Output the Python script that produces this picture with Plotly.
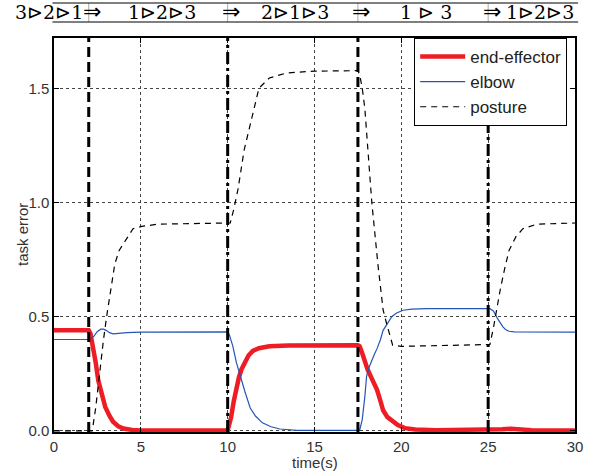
import plotly.graph_objects as go

# ---------------- data ----------------
ee_t = [0, 2.0, 2.1, 2.25, 2.4, 2.55, 2.75, 2.95, 3.2, 3.4, 3.7, 4.0, 4.5, 5.0,
        10.0, 10.1, 10.2, 10.35, 10.5, 10.65, 10.8, 11.0, 11.2, 11.45, 11.8, 12.4, 13.5,
        17.5, 17.6, 17.75, 17.9, 18.05, 18.2, 18.4, 18.6, 18.8, 18.95, 19.2, 19.5, 19.8,
        20.2, 20.8, 22, 25.3, 25.8, 26.3, 27, 27.5, 30]
ee_v = [0.44, 0.44, 0.425, 0.37, 0.30, 0.22, 0.155, 0.105, 0.065, 0.04, 0.02, 0.01, 0.004, 0.002,
        0.002, 0.03, 0.06, 0.13, 0.19, 0.235, 0.27, 0.305, 0.33, 0.35, 0.362, 0.37, 0.374,
        0.375, 0.37, 0.34, 0.30, 0.27, 0.245, 0.215, 0.18, 0.13, 0.09, 0.06, 0.04, 0.025,
        0.012, 0.006, 0.003, 0.003, 0.007, 0.009, 0.007, 0.003, 0.002]

elbow_t = [0, 2.1, 2.3, 2.5, 2.7, 2.85, 3.0, 3.2, 3.4, 3.7, 4.2, 5,
           10, 10.1, 10.3, 10.5, 10.8, 11.0, 11.3, 11.6, 12.0, 12.5, 13, 14,
           17.6, 17.75, 17.9, 18.0, 18.15, 18.3, 18.45, 18.6, 18.8, 18.95, 19.2, 19.45, 19.7,
           20.1, 20.6, 21.5, 25.1, 25.3, 25.55, 25.7, 25.85, 26.0, 26.2, 26.5, 30]
elbow_v = [0.40, 0.40, 0.415, 0.435, 0.445, 0.445, 0.44, 0.43, 0.425, 0.428, 0.43, 0.432,
           0.433, 0.42, 0.37, 0.30, 0.22, 0.17, 0.10, 0.065, 0.035, 0.018, 0.008, 0.002,
           0.002, 0.05, 0.15, 0.24, 0.28, 0.31, 0.335, 0.36, 0.40, 0.44, 0.47, 0.50, 0.515,
           0.528, 0.533, 0.535, 0.535, 0.525, 0.49, 0.47, 0.455, 0.444, 0.436, 0.433, 0.432]

posture_t = [0, 2.2, 2.4, 2.65, 2.85, 3.05, 3.3, 3.5, 3.75, 4.0, 4.3, 4.55, 5.05, 6,
             10.0, 10.15, 10.35, 10.6, 10.95, 11.4, 11.8, 12.4, 13.4, 15, 17.5,
             17.6, 17.75, 17.9, 18.1, 18.3, 18.65, 18.95, 19.15, 19.35, 19.5, 20, 25.0,
             25.1, 25.3, 25.5, 25.7, 25.95, 26.2, 26.6, 27.0, 27.8, 30]
posture_v = [0.0, 0.0, 0.1, 0.28, 0.40, 0.51, 0.64, 0.73, 0.79, 0.82, 0.86, 0.885, 0.895, 0.905,
             0.91, 0.91, 0.97, 1.06, 1.23, 1.38, 1.50, 1.545, 1.567, 1.575, 1.577,
             1.56, 1.50, 1.41, 1.2, 1.0, 0.73, 0.53, 0.47, 0.41, 0.375, 0.37, 0.378,
             0.378, 0.45, 0.54, 0.62, 0.71, 0.79, 0.85, 0.885, 0.905, 0.91]

switch_times = [2, 10, 17.5, 25]
switch_dash = ["dash", "dashdot", "dash", "dashdot"]

header_labels = ["3\u22b32\u22b31", "1\u22b32\u22b33", "2\u22b31\u22b33", "1 \u22b3 3", "1\u22b32\u22b33"]
header_pos = [-0.3, 6.2, 13.9, 21.4, 28.0]
arrow = "\u21d2"

x_ticks = [0, 5, 10, 15, 20, 25, 30]
y_ticks = [0.0, 0.5, 1.0, 1.5]
X_RANGE = [0, 30]

# ---------------- figure ----------------
fig = go.Figure()
fig.add_trace(go.Scatter(x=ee_t, y=ee_v, mode="lines", name="end-effector",
                         line=dict(color="#ee1c25", width=4.5)))
fig.add_trace(go.Scatter(x=elbow_t, y=elbow_v, mode="lines", name="elbow",
                         line=dict(color="#2456b4", width=1.2)))
fig.add_trace(go.Scatter(x=posture_t, y=posture_v, mode="lines", name="posture",
                         line=dict(color="black", width=1.2, dash="6px,5px")))

HB0, HB1 = 1.0406, 1.0888
HY = 1.066
shapes = []
for t, d in zip(switch_times, switch_dash):
    dd = "10px,5px" if d == "dash" else "12px,4px,3px,4px"
    shapes.append(dict(type="line", xref="x", yref="paper", x0=t, x1=t, y0=0, y1=1,
                       line=dict(color="black", width=3, dash=dd), layer="above"))
    shapes.append(dict(type="line", xref="x", yref="paper", x0=t, x1=t, y0=HB0, y1=HB1,
                       line=dict(color="#aaaaaa", width=1)))
for yy in [HB0, HB1]:
    shapes.append(dict(type="line", xref="paper", yref="paper", x0=-0.003, x1=1.006, y0=yy, y1=yy,
                       line=dict(color="black", width=1.2)))

annotations = []
span = X_RANGE[1] - X_RANGE[0]
for lab, p in zip(header_labels, header_pos):
    annotations.append(dict(text=lab, x=(p - X_RANGE[0]) / span, y=HY, xref="paper", yref="paper",
                            showarrow=False, xanchor="center", yanchor="middle",
                            font=dict(family="DejaVu Serif", size=19, color="black")))
for t in switch_times:
    annotations.append(dict(text=arrow, x=t + 0.2, y=HY, xref="x", yref="paper", showarrow=False,
                            xanchor="center", yanchor="middle",
                            font=dict(family="DejaVu Sans", size=22, color="black")))
# axis titles
annotations.append(dict(text="task error", x=-0.0614, y=0.5, xref="paper", yref="paper",
                        showarrow=False, textangle=-90, xanchor="center", yanchor="middle",
                        font=dict(family="Liberation Sans", size=15, color="#333333")))
annotations.append(dict(text="time(s)", x=0.5, y=-0.078, xref="paper", yref="paper",
                        showarrow=False, xanchor="center", yanchor="middle",
                        font=dict(family="Liberation Sans", size=15, color="#333333")))

axis_common = dict(showline=True, linecolor="black", linewidth=1.5, mirror="ticks",
                   ticks="inside", ticklen=5, tickcolor="black", tickwidth=1.2,
                   showgrid=True, gridcolor="#444444", gridwidth=1, griddash="dot",
                   zeroline=False, automargin=False,
                   tickfont=dict(family="Liberation Sans", size=15, color="#333333"))

fig.update_layout(
    width=589, height=472,
    margin=dict(l=54, r=14, t=38, b=40, autoexpand=False),
    paper_bgcolor="white", plot_bgcolor="white",
    showlegend=True,
    legend=dict(x=0.985, y=1.0, xanchor="right", yanchor="top",
                bgcolor="white", bordercolor="black", borderwidth=1,
                font=dict(family="Liberation Sans", size=17, color="#222222"),
                itemwidth=45, tracegroupgap=0),
    shapes=shapes,
    annotations=annotations,
    xaxis=dict(range=X_RANGE, tickvals=x_ticks, ticktext=[str(v) for v in x_ticks], **axis_common),
    yaxis=dict(range=[-0.005, 1.72], tickvals=y_ticks, ticktext=["0.0", "0.5", "1.0", "1.5"],
               **axis_common),
)

fig.write_html("out.html", config={"displayModeBar": False},
               post_script="document.body.style.margin='0';")
